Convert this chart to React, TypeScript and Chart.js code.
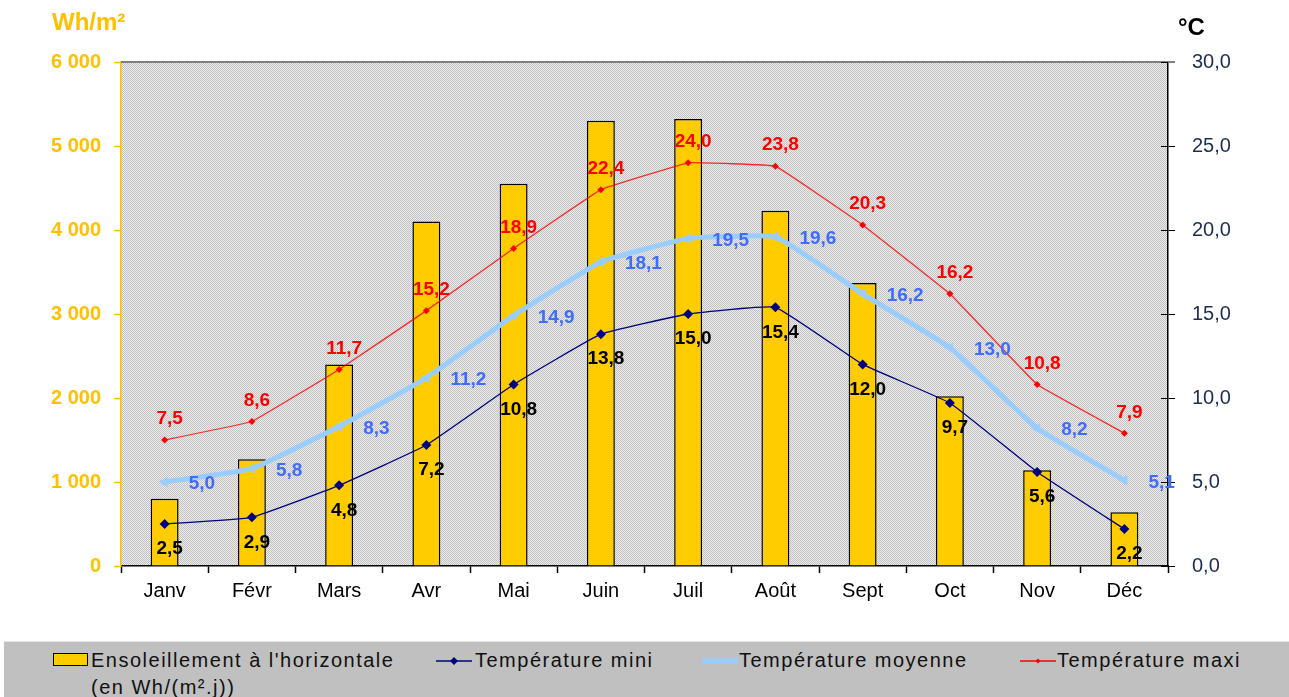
import React, { useEffect, useRef } from 'react';
import { Chart, registerables } from 'chart.js';

Chart.register(...registerables);

const months = ['Janv', 'Févr', 'Mars', 'Avr', 'Mai', 'Juin', 'Juil', 'Août', 'Sept', 'Oct', 'Nov', 'Déc'];
const ensoleillement = [800, 1270, 2400, 4100, 4550, 5300, 5320, 4230, 3370, 2020, 1140, 640];
const tempMini = [2.5, 2.9, 4.8, 7.2, 10.8, 13.8, 15.0, 15.4, 12.0, 9.7, 5.6, 2.2];
const tempMoyenne = [5.0, 5.8, 8.3, 11.2, 14.9, 18.1, 19.5, 19.6, 16.2, 13.0, 8.2, 5.1];
const tempMaxi = [7.5, 8.6, 11.7, 15.2, 18.9, 22.4, 24.0, 23.8, 20.3, 16.2, 10.8, 7.9];
const leftAxisMax = 6000;
const leftAxisStep = 1000;
const rightAxisMax = 30;
const rightAxisStep = 5;
const leftTitle = 'Wh/m²';
const rightTitle = '°C';
const legendLabels = [
  "Ensoleillement à l'horizontale",
  '(en Wh/(m².j))',
  'Température mini',
  'Température moyenne',
  'Température maxi',
];

const FONT = '"Liberation Sans", Arial, sans-serif';
const YELLOW = '#FFC000';
const BAR_YELLOW = '#FFCC00';
const MINI_COLOR = '#000080';
const MOY_COLOR = '#99CCFF';
const MAXI_COLOR = '#FF0000';
const MOY_LABEL = '#3F6BFF';

const fmtFr = (v: number) => v.toFixed(1).replace('.', ',');
const fmtThousands = (v: number) => {
  const s = Math.round(v).toString();
  return s.replace(/\B(?=(\d{3})+(?!\d))/g, ' ');
};

const plotBgPlugin = {
  id: 'plotBg',
  beforeDraw(chart: any) {
    const { ctx, chartArea: a } = chart;
    const pc = document.createElement('canvas');
    pc.width = 2;
    pc.height = 2;
    const p = pc.getContext('2d')!;
    p.fillStyle = '#ECECEC';
    p.fillRect(0, 0, 2, 2);
    p.fillStyle = '#C2C2C2';
    p.fillRect(0, 0, 1, 1);
    p.fillRect(1, 1, 1, 1);
    ctx.save();
    ctx.fillStyle = ctx.createPattern(pc, 'repeat');
    ctx.fillRect(a.left, a.top, a.right - a.left, a.bottom - a.top);
    ctx.restore();
  },
  afterDraw(chart: any) {
    const { ctx, chartArea: a } = chart;
    ctx.save();
    ctx.strokeStyle = '#7F7F7F';
    ctx.lineWidth = 2;
    ctx.beginPath();
    ctx.moveTo(a.left, a.top);
    ctx.lineTo(a.right + 7, a.top);
    ctx.stroke();
    const y1 = chart.scales.y1;
    ctx.strokeStyle = '#000000';
    ctx.lineWidth = 1;
    for (let v = 0; v <= rightAxisMax; v += rightAxisStep) {
      const py = Math.round(y1.getPixelForValue(v)) + 0.5;
      ctx.beginPath();
      ctx.moveTo(a.right - 7, py);
      ctx.lineTo(a.right, py);
      ctx.stroke();
    }
    ctx.fillStyle = YELLOW;
    ctx.font = `bold 24px ${FONT}`;
    ctx.textAlign = 'left';
    ctx.textBaseline = 'alphabetic';
    ctx.fillText(leftTitle, 52, 30);
    ctx.fillStyle = '#000000';
    ctx.fillText(rightTitle, 1178, 35);
    ctx.restore();
  },
};

const valueLabelsPlugin = {
  id: 'valueLabels',
  afterDatasetsDraw(chart: any) {
    const { ctx } = chart;
    const confs = [
      { ds: 1, color: '#000000', dx: 5, dy: 25, align: 'center' },
      { ds: 2, color: MOY_LABEL, dx: 24, dy: 2, align: 'left' },
      { ds: 3, color: MAXI_COLOR, dx: 5, dy: -21, align: 'center' },
    ];
    ctx.save();
    ctx.font = `bold 19px ${FONT}`;
    ctx.textBaseline = 'middle';
    confs.forEach((c) => {
      const meta = chart.getDatasetMeta(c.ds);
      const data = chart.data.datasets[c.ds].data as number[];
      meta.data.forEach((pt: any, i: number) => {
        ctx.fillStyle = c.color;
        ctx.textAlign = c.align;
        ctx.fillText(fmtFr(data[i]), pt.x + c.dx, pt.y + c.dy);
      });
    });
    ctx.restore();
  },
};

function LegendLine({ color, width, marker }: { color: string; width: number; marker: string }) {
  return (
    <svg width={36} height={14} style={{ display: 'block' }}>
      <line x1={0} y1={7} x2={36} y2={7} stroke={color} strokeWidth={width} />
      {marker === 'diamond' && <polygon points="18,3 22,7 18,11 14,7" fill={color} />}
      {marker === 'small' && <polygon points="18,4.5 20.5,7 18,9.5 15.5,7" fill={color} />}
      {marker === 'tri' && <polygon points="13,7 21,3 21,11" fill={color} />}
    </svg>
  );
}

export default function App() {
  const canvasRef = useRef<HTMLCanvasElement | null>(null);

  useEffect(() => {
    const canvas = canvasRef.current;
    if (!canvas) return;
    const chart = new Chart(canvas, {
      data: {
        labels: months,
        datasets: [
          {
            type: 'bar',
            label: legendLabels[0],
            data: ensoleillement,
            yAxisID: 'y',
            backgroundColor: BAR_YELLOW,
            borderColor: '#000000',
            borderWidth: 1.5,
            barPercentage: 0.32,
            categoryPercentage: 1,
            order: 10,
          },
          {
            type: 'line',
            label: legendLabels[2],
            data: tempMini,
            yAxisID: 'y1',
            borderColor: MINI_COLOR,
            backgroundColor: MINI_COLOR,
            borderWidth: 1.3,
            pointStyle: 'rectRot',
            pointRadius: 5,
            pointBorderWidth: 0,
            tension: 0.1,
            order: 3,
          },
          {
            type: 'line',
            label: legendLabels[3],
            data: tempMoyenne,
            yAxisID: 'y1',
            borderColor: MOY_COLOR,
            backgroundColor: MOY_COLOR,
            borderWidth: 5,
            pointStyle: 'triangle',
            pointRotation: 270,
            pointRadius: 6,
            pointBorderWidth: 0,
            tension: 0.1,
            order: 2,
          },
          {
            type: 'line',
            label: legendLabels[4],
            data: tempMaxi,
            yAxisID: 'y1',
            borderColor: 'rgba(255,0,0,0.8)',
            backgroundColor: MAXI_COLOR,
            borderWidth: 1.3,
            pointStyle: 'rectRot',
            pointRadius: 3.5,
            pointBorderWidth: 0,
            tension: 0.05,
            order: 1,
          },
        ],
      },
      options: {
        responsive: false,
        animation: false,
        layout: { padding: { top: 62, left: 0, right: 0, bottom: 0 } },
        plugins: {
          legend: { display: false },
          tooltip: { enabled: false },
          title: { display: false },
        },
        scales: {
          x: {
            offset: true,
            grid: {
              offset: true,
              drawOnChartArea: false,
              drawTicks: true,
              tickLength: 7,
              tickWidth: 1.5,
              tickColor: '#000000',
            },
            border: { color: '#000000', width: 1.5 },
            ticks: {
              color: '#000000',
              font: { family: FONT, size: 20 },
              padding: 6,
              maxRotation: 0,
              autoSkip: false,
            },
            afterFit(scale: any) {
              scale.height = 74;
            },
          },
          y: {
            position: 'left',
            min: 0,
            max: leftAxisMax,
            grid: {
              drawOnChartArea: false,
              drawTicks: true,
              tickLength: 7,
              tickColor: YELLOW,
              tickWidth: 1.5,
            },
            border: { color: YELLOW, width: 1.5 },
            ticks: {
              stepSize: leftAxisStep,
              color: YELLOW,
              font: { family: FONT, size: 20, weight: 'bold' },
              padding: 13,
              callback: (v: any) => fmtThousands(Number(v)),
            },
            afterFit(scale: any) {
              scale.width = 121;
            },
          },
          y1: {
            position: 'right',
            min: 0,
            max: rightAxisMax,
            grid: {
              drawOnChartArea: false,
              drawTicks: true,
              tickLength: 7,
              tickColor: '#000000',
              tickWidth: 1,
            },
            border: { color: '#000000', width: 1.5 },
            ticks: {
              stepSize: rightAxisStep,
              color: '#1F2D4D',
              font: { family: FONT, size: 20 },
              padding: 17,
              callback: (v: any) => fmtFr(Number(v)),
            },
            afterFit(scale: any) {
              scale.width = 121;
            },
          },
        },
      } as any,
      plugins: [plotBgPlugin, valueLabelsPlugin],
    } as any);
    return () => chart.destroy();
  }, []);

  const textStyle: React.CSSProperties = {
    position: 'absolute',
    fontFamily: FONT,
    fontSize: 20,
    letterSpacing: '1.5px',
    lineHeight: '27px',
    color: '#111111',
    whiteSpace: 'nowrap',
  };

  return (
    <div style={{ position: 'fixed', left: 0, top: 0, width: 1289, height: 697, background: '#FFFFFF', overflow: 'hidden' }}>
      <canvas ref={canvasRef} width={1289} height={640} style={{ position: 'absolute', left: 0, top: 0, width: 1289, height: 640 }} />
      <div
        style={{
          position: 'absolute',
          left: 4,
          top: 641,
          width: 1285,
          height: 56,
          background: '#C0C0C0',
          borderTop: '1px solid #E4E4E4',
          boxSizing: 'border-box',
        }}
      />
      <div
        style={{
          position: 'absolute',
          left: 53,
          top: 653,
          width: 35,
          height: 13,
          background: BAR_YELLOW,
          border: '1.5px solid #000000',
          boxSizing: 'border-box',
        }}
      />
      <div style={{ ...textStyle, left: 91, top: 647 }}>
        {legendLabels[0]}
        <br />
        {legendLabels[1]}
      </div>
      <div style={{ position: 'absolute', left: 436, top: 654 }}>
        <LegendLine color={MINI_COLOR} width={1.5} marker="diamond" />
      </div>
      <div style={{ ...textStyle, left: 475, top: 647 }}>{legendLabels[2]}</div>
      <div style={{ position: 'absolute', left: 702, top: 654 }}>
        <LegendLine color={MOY_COLOR} width={5} marker="tri" />
      </div>
      <div style={{ ...textStyle, left: 739, top: 647 }}>{legendLabels[3]}</div>
      <div style={{ position: 'absolute', left: 1020, top: 654 }}>
        <LegendLine color={MAXI_COLOR} width={1.5} marker="small" />
      </div>
      <div style={{ ...textStyle, left: 1057, top: 647 }}>{legendLabels[4]}</div>
    </div>
  );
}
